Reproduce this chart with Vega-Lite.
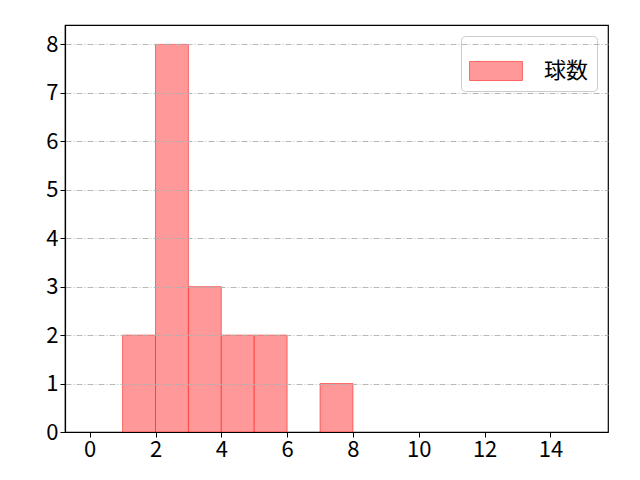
{
  "$schema": "https://vega.github.io/schema/vega-lite/v6.json",
  "autosize": "none",
  "width": 543,
  "height": 407,
  "padding": {"left": 65, "top": 25, "right": 32, "bottom": 48},
  "background": "white",
  "config": {
    "font": "Noto Sans CJK JP",
    "view": {"stroke": "black", "strokeWidth": 1.2},
    "axis": {
      "labelFont": "Noto Sans CJK JP",
      "labelFontSize": 22,
      "labelColor": "black",
      "tickColor": "black",
      "domain": true,
      "domainColor": "black",
      "domainWidth": 1.2,
      "tickSize": 5,
      "labelPadding": 2,
      "title": null
    }
  },
  "data": {
    "values": [
      {"start": 1, "end": 2, "count": 2, "series": "球数"},
      {"start": 2, "end": 3, "count": 8, "series": "球数"},
      {"start": 3, "end": 4, "count": 3, "series": "球数"},
      {"start": 4, "end": 5, "count": 2, "series": "球数"},
      {"start": 5, "end": 6, "count": 2, "series": "球数"},
      {"start": 7, "end": 8, "count": 1, "series": "球数"}
    ]
  },
  "mark": {"type": "rect", "stroke": "#ff0000", "strokeOpacity": 0.5, "strokeWidth": 1, "opacity": 1},
  "encoding": {
    "x": {
      "field": "start", "type": "quantitative",
      "scale": {"domain": [-0.75, 15.75], "nice": false, "zero": false},
      "axis": {"values": [0, 2, 4, 6, 8, 10, 12, 14], "grid": false, "zindex": 2}
    },
    "x2": {"field": "end"},
    "y": {
      "field": "count", "type": "quantitative",
      "scale": {"domain": [0, 8.4], "nice": false},
      "axis": {
        "values": [0, 1, 2, 3, 4, 5, 6, 7, 8],
        "grid": true, "gridColor": "#b0b0b0", "gridDash": [6, 2, 1, 2], "gridWidth": 0.9,
        "zindex": 1
      }
    },
    "y2": {"datum": 0},
    "color": {
      "field": "series", "type": "nominal",
      "scale": {"range": ["#ff9999"]},
      "legend": {
        "title": null,
        "orient": "top-right",
        "offset": 11,
        "symbolType": "M-1,-0.36L1,-0.36L1,0.36L-1,0.36Z",
        "symbolSize": 2800,
        "symbolStrokeColor": "#ff6666",
        "symbolStrokeWidth": 1,
        "symbolOpacity": 1,
        "labelFontSize": 22,
        "labelColor": "black",
        "labelOffset": 21,
        "fillColor": "white",
        "strokeColor": "#cccccc",
        "cornerRadius": 4,
        "padding": 8
      }
    }
  }
}
